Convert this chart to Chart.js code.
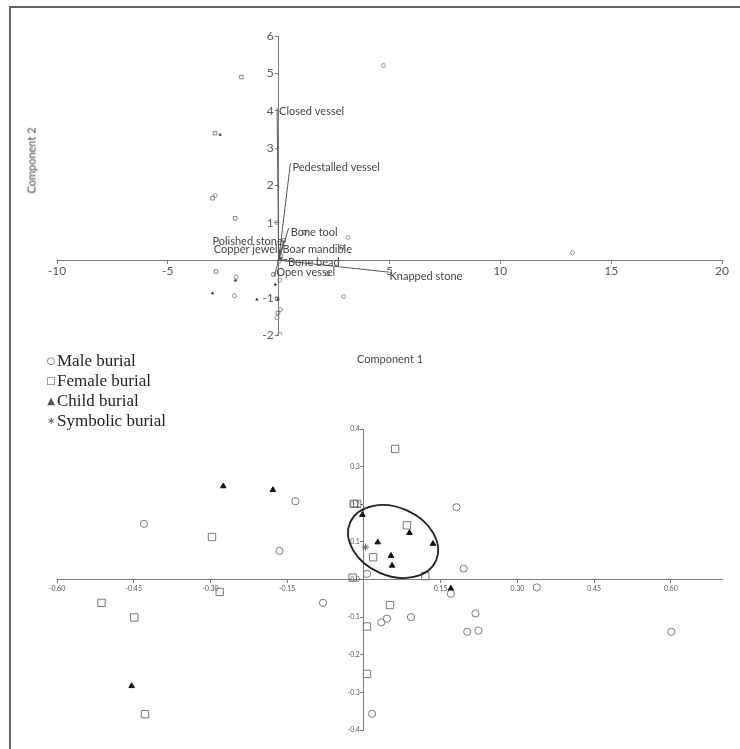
<!DOCTYPE html>
<html lang="en">
  <head>
    <meta charset="UTF-8" />
    <title>PCA burials</title>
    <script src="https://cdn.jsdelivr.net/npm/chart.js"></script>
    <style>
      body { margin: 0; background: #fff; }
      #wrap { position: relative; width: 740px; height: 749px; overflow: hidden; }
      .frame { position: absolute; left: 9px; top: 6px; right: -5px; bottom: -5px;
        border-left: 2px solid #666; border-top: 2px solid #666; }
      #cTop { position: absolute; left: 0; top: 0; }
      #cBot { position: absolute; left: 0; top: 345px; }
      .axTitle { position: absolute; font: 11px Lato, sans-serif; color: #444; white-space: nowrap; }
      #legend { position: absolute; left: 45px; top: 351px; font: 17px "Liberation Serif", serif; color: #222; }
      #legend div { height: 20px; line-height: 20px; }
      #legend span { display: inline-block; width: 12px; font: 10px "DejaVu Sans", sans-serif; color: #555;
        text-align: center; vertical-align: 2px; }
    </style>
  </head>
  <body>
    <div id="wrap">
      <div class="frame"></div>
      <canvas id="cTop" width="740" height="350"></canvas>
      <canvas id="cBot" width="740" height="404"></canvas>
      <div class="axTitle" style="left:-2px;top:154px;transform:rotate(-90deg);">Component 2</div>
      <div class="axTitle" style="left:357px;top:352px;">Component 1</div>
      <div id="legend"></div>
    </div>
  </body>
  <script>
    // 위쪽 biplot (PCA 점수 + 변수 벡터)
    const topMale = [[4.73, 5.21], [-2.86, 1.73], [-0.08, 1.01], [3.13, 0.61], [13.25, 0.2], [-1.92, -0.45],
      [-1.99, -0.95], [0.05, -0.53], [2.93, -0.97], [0.08, -1.32], [-0.07, -1.54], [0.05, -1.98], [0.03, -0.02]];
    const topFemale = [[-1.68, 4.9], [-2.87, 3.4], [-2.98, 1.66], [-1.96, 1.12], [1.16, 0.75], [2.85, 0.35],
      [0.23, 0.53], [-2.83, -0.3], [-0.23, -0.38], [2.2, -0.36], [-0.07, -1.03], [-0.03, -1.41], [0.1, 0.12]];
    const topChild = [[-2.64, 3.36], [-1.95, -0.54], [-2.98, -0.88], [-0.98, -1.05], [-0.15, -0.65],
      [-0.04, -1.05], [0.02, 0.25], [0.1, 0.05]];

    const vecNames = ["Closed vessel", "Pedestalled vessel", "Bone tool", "Polished stone", "Copper jewel",
      "Boar mandible", "Bone bead", "Knapped stone", "Open vessel"];
    const vecX = [-0.07, 0.53, 0.45, 0.23, 0.0, 0.08, 0.38, 5.0, -0.2];
    const vecY = [4.07, 2.6, 0.86, 0.53, 0.29, 0.29, 0.02, -0.32, -0.42];
    // 라벨 위치 (정렬, 픽셀 오프셋)
    const vecAlign = ["left", "left", "left", "right", "right", "left", "left", "left", "left"];
    const vecDx = [2, 2, 2, 1, 1, 2, 1, 0, 2];
    const vecDy = [3, 4.5, 4.5, 1.5, 0, 0, 3, 4.5, -3];

    const topXTicks = { min: -10, max: 20, step: 5 };
    const topYTicks = { min: -2, max: 6, step: 1 };

    // 아래쪽 점수 그림
    const botMale = [[-0.134, 0.208], [-0.43, 0.148], [-0.165, 0.076], [0.181, 0.192], [0.195, 0.029],
      [0.006, 0.015], [0.338, -0.021], [0.17, -0.038], [-0.08, -0.062], [0.218, -0.09], [0.092, -0.1],
      [0.045, -0.104], [0.034, -0.114], [0.202, -0.139], [0.224, -0.136], [0.601, -0.139], [0.016, -0.357]];
    const botFemale = [[0.061, 0.347], [-0.02, 0.201], [-0.013, 0.201], [0.084, 0.144], [-0.297, 0.113],
      [0.018, 0.059], [-0.022, 0.005], [0.12, 0.009], [-0.282, -0.033], [-0.513, -0.062], [-0.449, -0.101],
      [0.051, -0.068], [0.006, -0.125], [0.006, -0.251], [-0.428, -0.358]];
    const botChild = [[-0.275, 0.248], [-0.178, 0.238], [-0.003, 0.172], [0.027, 0.099], [0.053, 0.063],
      [0.055, 0.037], [0.089, 0.124], [0.135, 0.095], [0.17, -0.024], [-0.454, -0.283]];
    const botSymbolic = [[0.003, 0.086]];
    const ellipseCenter = [0.057, 0.101];

    const botXTicks = { min: -0.6, max: 0.7, step: 0.15 };
    const botYTicks = { min: -0.4, max: 0.4, step: 0.1 };

    const legendItems = [["○", "Male burial"], ["□", "Female burial"], ["▲", "Child burial"], ["∗", "Symbolic burial"]];

    // 범례 (HTML)
    document.querySelector("#legend").innerHTML = legendItems
      .map((it) => `<div><span>${it[0]}</span>${it[1]}</div>`)
      .join("");

    const toPts = (arr) => arr.map((p) => ({ x: p[0], y: p[1] }));
    const axisCol = "#7a7a7a";

    function centeredScale(t, other, font, color, fmt, tl, pad, showLabels) {
      return {
        type: "linear",
        min: t.min,
        max: t.max,
        position: { [other]: 0 },
        grid: { drawOnChartArea: false, drawTicks: true, tickLength: tl, color: axisCol },
        border: { color: axisCol, width: 1 },
        ticks: { display: showLabels, stepSize: t.step, autoSkip: false, maxRotation: 0, includeBounds: false,
          font: font, color: color, padding: pad, callback: fmt },
      };
    }

    // y축 눈금 라벨은 축 왼쪽에 직접 그림
    function yLabels(font, fmt, gap) {
      return {
        id: "yLabels",
        afterDraw(chart) {
          const { ctx, scales } = chart;
          const ax = scales.x.getPixelForValue(0);
          ctx.save();
          ctx.font = font;
          ctx.fillStyle = "#555";
          ctx.textAlign = "right";
          ctx.textBaseline = "middle";
          scales.y.ticks.forEach((t) => {
            const s = fmt(t.value);
            if (s !== "") ctx.fillText(s, ax - gap, scales.y.getPixelForValue(t.value));
          });
          ctx.restore();
        },
      };
    }

    // 벡터 라벨 그리기
    const vecLabels = {
      id: "vecLabels",
      afterDatasetsDraw(chart) {
        const { ctx, scales } = chart;
        ctx.save();
        ctx.font = "11px Lato";
        ctx.fillStyle = "#444";
        ctx.textBaseline = "middle";
        vecNames.forEach((n, i) => {
          const px = scales.x.getPixelForValue(vecX[i]);
          const py = scales.y.getPixelForValue(vecY[i]);
          ctx.textAlign = vecAlign[i];
          ctx.fillText(n, px + (vecAlign[i] === "left" ? vecDx[i] : -vecDx[i]), py + vecDy[i]);
        });
        ctx.restore();
      },
    };

    const vecSets = vecNames.map((n, i) => ({
      label: n,
      data: [{ x: 0, y: 0 }, { x: vecX[i], y: vecY[i] }],
      showLine: true,
      pointRadius: 0,
      borderColor: "#555",
      borderWidth: 1,
    }));

    const topFont = { family: "Lato", size: 12 };
    const topFmt = (v) => (v === 0 ? "" : String(v));

    const topChart = new Chart(document.querySelector("#cTop"), {
      type: "scatter",
      data: {
        datasets: [
          ...vecSets,
          { label: "Male", data: toPts(topMale), pointStyle: "circle", pointRadius: 2,
            borderColor: "#777", backgroundColor: "rgba(0,0,0,0)", borderWidth: 0.8 },
          { label: "Female", data: toPts(topFemale), pointStyle: "rect", pointRadius: 2.5,
            borderColor: "#666", backgroundColor: "rgba(0,0,0,0)", borderWidth: 0.8 },
          { label: "Child", data: toPts(topChild), pointStyle: "triangle", pointRadius: 1.5,
            borderColor: "#333", backgroundColor: "#333", borderWidth: 0.5 },
        ],
      },
      options: {
        responsive: false,
        animation: false,
        layout: { padding: { left: 57, right: 18, top: 36, bottom: 15 } },
        plugins: { legend: { display: false }, tooltip: { enabled: false } },
        scales: {
          x: centeredScale(topXTicks, "y", topFont, "#555", topFmt, 3, 1, true),
          y: centeredScale(topYTicks, "x", topFont, "#555", topFmt, 3, 2, false),
        },
      },
      plugins: [vecLabels, yLabels("12px Lato", topFmt, 5)],
    });

    // 타원 (아래쪽 그림)
    const ellipsePlugin = {
      id: "ellipse",
      afterDatasetsDraw(chart) {
        const { ctx, scales } = chart;
        ctx.save();
        ctx.beginPath();
        ctx.ellipse(scales.x.getPixelForValue(ellipseCenter[0]), scales.y.getPixelForValue(ellipseCenter[1]),
          47, 34, (24 * Math.PI) / 180, 0, Math.PI * 2);
        ctx.strokeStyle = "#222";
        ctx.lineWidth = 1.8;
        ctx.stroke();
        ctx.restore();
      },
    };

    const botFont = { family: "Lato", size: 7 };
    const botYFmt = (v) => (Math.abs(v) < 1e-9 ? "0.0" : v.toFixed(1));

    const botChart = new Chart(document.querySelector("#cBot"), {
      type: "scatter",
      data: {
        datasets: [
          { label: "Male burial", data: toPts(botMale), pointStyle: "circle", pointRadius: 3.6,
            borderColor: "#777", backgroundColor: "rgba(0,0,0,0)", borderWidth: 1 },
          { label: "Female burial", data: toPts(botFemale), pointStyle: "rect", pointRadius: 5.2,
            borderColor: "#777", backgroundColor: "rgba(0,0,0,0)", borderWidth: 1 },
          { label: "Child burial", data: toPts(botChild), pointStyle: "triangle", pointRadius: 3.2,
            borderColor: "#111", backgroundColor: "#111", borderWidth: 1 },
          { label: "Symbolic burial", data: toPts(botSymbolic), pointStyle: "star", pointRadius: 3.5,
            borderColor: "#666", borderWidth: 1 },
        ],
      },
      options: {
        responsive: false,
        animation: false,
        layout: { padding: { left: 57, right: 18, top: 84, bottom: 19 } },
        plugins: { legend: { display: false }, tooltip: { enabled: false } },
        scales: {
          x: centeredScale(botXTicks, "y", botFont, "#555",
            (v) => (Math.abs(v) < 1e-9 ? "" : v.toFixed(2)), 3, 2, true),
          y: centeredScale(botYTicks, "x", botFont, "#555", botYFmt, 3, 2, false),
        },
      },
      plugins: [ellipsePlugin, yLabels("7px Lato", botYFmt, 4)],
    });
  </script>
</html>
